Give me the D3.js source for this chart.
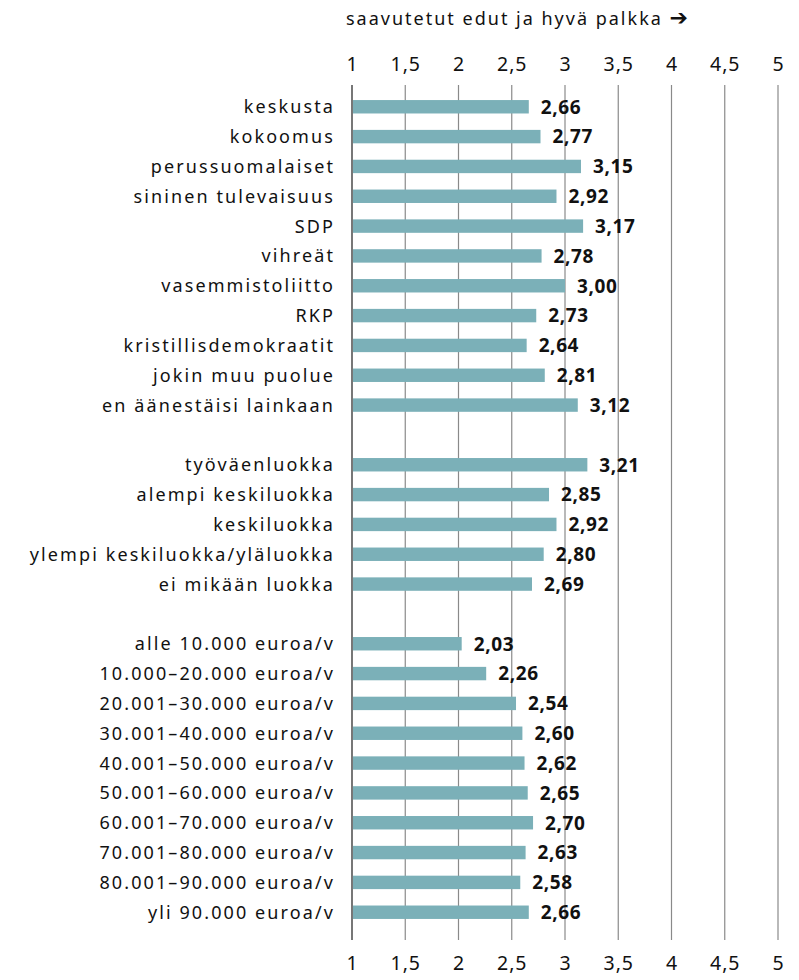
<!DOCTYPE html>
<html>
<head>
<meta charset="utf-8">
<script src="https://cdn.jsdelivr.net/npm/d3@7"></script>
<style>
  body { margin: 0; background: #fff; }
  svg text { font-family: "Noto Sans", "Open Sans", sans-serif; fill: #111; }
</style>
</head>
<body>
<div id="chart"></div>
<script>
const parties = ["keskusta", "kokoomus", "perussuomalaiset", "sininen tulevaisuus", "SDP", "vihreät",
                 "vasemmistoliitto", "RKP", "kristillisdemokraatit", "jokin muu puolue", "en äänestäisi lainkaan"];
const partyValues = [2.66, 2.77, 3.15, 2.92, 3.17, 2.78, 3.00, 2.73, 2.64, 2.81, 3.12];

const classes = ["työväenluokka", "alempi keskiluokka", "keskiluokka", "ylempi keskiluokka/yläluokka", "ei mikään luokka"];
const classValues = [3.21, 2.85, 2.92, 2.80, 2.69];

const incomes = ["alle 10.000 euroa/v", "10.000\u201320.000 euroa/v", "20.001\u201330.000 euroa/v", "30.001\u201340.000 euroa/v",
                 "40.001\u201350.000 euroa/v", "50.001\u201360.000 euroa/v", "60.001\u201370.000 euroa/v",
                 "70.001\u201380.000 euroa/v", "80.001\u201390.000 euroa/v", "yli 90.000 euroa/v"];
const incomeValues = [2.03, 2.26, 2.54, 2.60, 2.62, 2.65, 2.70, 2.63, 2.58, 2.66];

const tickValues = [1, 1.5, 2, 2.5, 3, 3.5, 4, 4.5, 5];
const title = "saavutetut edut ja hyvä palkka";

const WIDTH = 799, HEIGHT = 980;

// rows with one empty slot between groups
const rows = [];
parties.forEach((c, i) => rows.push({ key: c, value: partyValues[i] }));
rows.push({ key: "_gap1", value: null });
classes.forEach((c, i) => rows.push({ key: c, value: classValues[i] }));
rows.push({ key: "_gap2", value: null });
incomes.forEach((c, i) => rows.push({ key: c, value: incomeValues[i] }));

const fmt = v => d3.format(".2f")(v).replace(".", ",");
const fmtTick = v => String(v).replace(".", ",");

const svg = d3.select("#chart").append("svg")
    .attr("width", WIDTH)
    .attr("height", HEIGHT);

const x = d3.scaleLinear().domain([1, 5]).range([352, 778]);
const y = d3.scaleBand().domain(rows.map(d => d.key)).range([92, 927]).paddingInner(0.55).paddingOuter(0.27);

// gridlines
svg.append("g")
    .selectAll("line")
    .data(tickValues)
    .join("line")
      .attr("x1", d => x(d)).attr("x2", d => x(d))
      .attr("y1", 85).attr("y2", 940)
      .attr("stroke", d => d === 1 ? "#555" : "#8a8a8a")
      .attr("stroke-width", d => d === 1 ? 1.6 : 1.2);

// top and bottom tick labels
const topAxis = svg.append("g").attr("transform", "translate(0,71)")
    .call(d3.axisTop(x).tickValues(tickValues).tickFormat(fmtTick).tickSize(0).tickPadding(0));
const bottomAxis = svg.append("g").attr("transform", "translate(0,956)")
    .call(d3.axisBottom(x).tickValues(tickValues).tickFormat(fmtTick).tickSize(0).tickPadding(0));
[topAxis, bottomAxis].forEach(a => {
    a.select(".domain").remove();
    a.selectAll("text").attr("font-size", 19.5).attr("fill", "#111")
        .attr("letter-spacing", 1)
        .style("font-family", "'Noto Sans', sans-serif");
});

// title with heavy arrow
const t = svg.append("text")
    .attr("x", 346).attr("y", 25)
    .attr("font-size", 18)
    .attr("letter-spacing", 2)
    .text(title + " ");
t.append("tspan")
    .attr("font-size", 22)
    .attr("font-weight", "bold")
    .attr("letter-spacing", 0)
    .style("font-family", "'DejaVu Sans', sans-serif")
    .text("\u2794");

const data = rows.filter(d => d.value !== null);

// bars
svg.append("g")
    .selectAll("rect")
    .data(data)
    .join("rect")
      .attr("x", x(1) + 1)
      .attr("y", d => y(d.key))
      .attr("width", d => x(d.value) - x(1) - 1)
      .attr("height", y.bandwidth())
      .attr("fill", "#7bb0b8");

// value labels
svg.append("g")
    .selectAll("text")
    .data(data)
    .join("text")
      .attr("x", d => x(d.value) + 12)
      .attr("y", d => y(d.key) + y.bandwidth() / 2)
      .attr("dy", "0.36em")
      .attr("font-size", 19)
      .attr("font-weight", "bold")
      .attr("letter-spacing", 0.6)
      .text(d => fmt(d.value));

// category labels
svg.append("g")
    .selectAll("text")
    .data(data)
    .join("text")
      .attr("x", 335)
      .attr("y", d => y(d.key) + y.bandwidth() / 2)
      .attr("dy", "0.36em")
      .attr("text-anchor", "end")
      .attr("font-size", 18)
      .attr("letter-spacing", 2.1)
      .text(d => d.key);
</script>
</body>
</html>
